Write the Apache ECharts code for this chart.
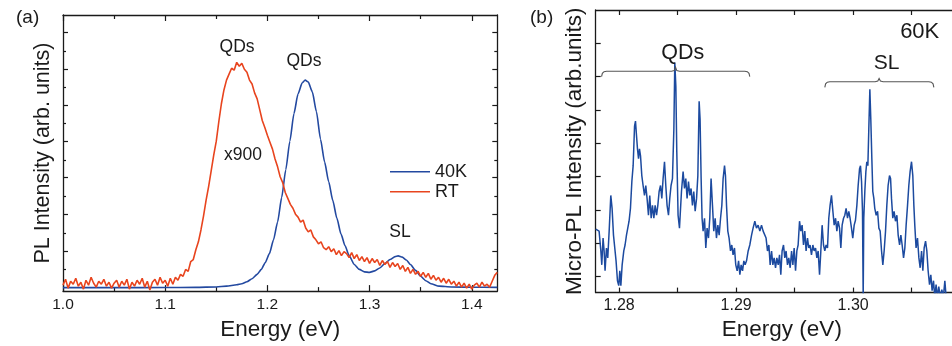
<!DOCTYPE html>
<html><head><meta charset="utf-8">
<script src="https://cdn.jsdelivr.net/npm/echarts@6/dist/echarts.min.js"></script>
<style>html,body{margin:0;padding:0;background:#fff}#c{width:952px;height:346px}</style>
</head><body><div id="c"></div>
<script>
// ---------------- data ----------------
// Panel (a): PL spectra, [energy eV, intensity arb.]
const k40Data = [[1.0,3.5],[1.05,3.5],[1.1,3.6],[1.13,3.8],[1.15,4.2],[1.16,5],[1.17,6.5],[1.175,7.5],[1.18,9.5],[1.185,12.5],[1.19,17],[1.194,22],[1.198,29],[1.202,38],[1.206,52],[1.21,70],[1.214,95],[1.218,123],[1.222,152],[1.226,180],[1.23,200],[1.234,211],[1.237,214],[1.24,212],[1.244,202],[1.248,182],[1.252,154],[1.256,131],[1.26,111],[1.264,92],[1.268,74],[1.272,58],[1.276,46],[1.28,36],[1.285,27],[1.29,22],[1.295,19.5],[1.3,19],[1.305,20.5],[1.31,23.5],[1.315,28],[1.32,32],[1.325,35],[1.328,35.7],[1.332,34.5],[1.336,31.5],[1.34,27],[1.345,21],[1.35,15],[1.355,10.5],[1.36,7.5],[1.368,5],[1.38,4.2],[1.4,3.9],[1.425,3.8]];
const rtData = [[1.0,6],[1.0025,12],[1.005,3],[1.0075,10],[1.01,7],[1.0125,13],[1.015,5],[1.0175,9],[1.02,2],[1.0225,11],[1.025,6],[1.0275,14],[1.03,8],[1.0325,4],[1.035,10],[1.0375,7],[1.04,12],[1.0425,5],[1.045,9],[1.0475,3],[1.05,8],[1.0525,11],[1.055,4],[1.0575,10],[1.06,6],[1.0625,12],[1.065,2],[1.0675,9],[1.07,5],[1.0725,11],[1.075,7],[1.0775,13],[1.08,4],[1.0825,10],[1.085,1],[1.0875,9],[1.09,12],[1.0925,6],[1.095,14],[1.0975,8],[1.1,11],[1.1025,5],[1.105,13],[1.1075,7],[1.11,14],[1.1125,11],[1.115,17],[1.1175,15],[1.12,22],[1.1225,20],[1.125,30],[1.1275,32],[1.13,42],[1.1325,50],[1.135,62],[1.1375,76],[1.14,92],[1.1425,106],[1.145,122],[1.1475,138],[1.15,152],[1.1525,172],[1.155,190],[1.1575,204],[1.16,214],[1.1625,220],[1.165,226],[1.1675,224],[1.17,232],[1.1725,228],[1.175,231],[1.1775,225],[1.18,222],[1.1825,214],[1.185,210],[1.1875,201],[1.19,195],[1.1925,184],[1.195,173],[1.1975,166],[1.2,158],[1.2025,151],[1.205,144],[1.2075,134],[1.21,126],[1.2125,116],[1.215,110],[1.2175,100],[1.22,94],[1.2225,88],[1.225,84],[1.2275,78],[1.23,75],[1.2325,70],[1.235,72],[1.2375,64],[1.24,60],[1.2425,62],[1.245,55],[1.2475,52],[1.25,48],[1.2525,50],[1.255,44],[1.2575,42],[1.26,45],[1.2625,40],[1.265,43],[1.2675,37],[1.27,41],[1.2725,36],[1.275,40],[1.2775,38],[1.28,34],[1.2825,39],[1.285,33],[1.2875,37],[1.29,31],[1.2925,35],[1.295,30],[1.2975,34],[1.3,28],[1.3025,33],[1.305,29],[1.3075,32],[1.31,26],[1.3125,31],[1.315,27],[1.3175,30],[1.32,24],[1.3225,29],[1.325,25],[1.3275,28],[1.33,22],[1.3325,26],[1.335,20],[1.3375,24],[1.34,18],[1.3425,22],[1.345,17],[1.3475,20],[1.35,15],[1.3525,19],[1.355,14],[1.3575,18],[1.36,12],[1.3625,16],[1.365,11],[1.3675,14],[1.37,9],[1.3725,13],[1.375,8],[1.3775,12],[1.38,7],[1.3825,10],[1.385,5],[1.3875,9],[1.39,4],[1.3925,8],[1.395,3],[1.3975,7],[1.4,2],[1.4025,6],[1.405,8],[1.4075,4],[1.41,9],[1.4125,5],[1.415,7],[1.4175,4],[1.42,10],[1.4225,16],[1.425,19]];
// Panel (b): micro-PL spectrum at 60K
const microData = [[1.278,64],[1.27815,65],[1.27829,62],[1.27844,42],[1.27852,28],[1.27863,55],[1.27872,42],[1.2788,22],[1.27892,45],[1.27903,35],[1.27915,62],[1.27929,98],[1.2794,85],[1.27952,58],[1.27963,45],[1.27974,32],[1.27986,12],[1.27997,7],[1.28006,22],[1.28015,7],[1.28026,28],[1.2804,42],[1.28051,48],[1.28063,58],[1.28074,65],[1.28085,72],[1.28097,85],[1.28109,112],[1.2812,128],[1.28132,168],[1.2814,173],[1.28149,158],[1.28157,145],[1.28166,135],[1.28174,145],[1.28183,138],[1.28194,118],[1.28205,108],[1.28217,98],[1.28228,108],[1.28239,95],[1.28251,78],[1.28262,98],[1.28274,75],[1.28285,88],[1.28297,75],[1.28308,88],[1.2832,78],[1.28331,88],[1.28342,102],[1.28354,108],[1.28365,95],[1.28376,115],[1.28388,132],[1.28399,108],[1.2841,88],[1.28422,78],[1.28433,95],[1.28444,108],[1.28456,115],[1.28468,165],[1.28476,232],[1.28485,208],[1.28493,142],[1.28504,78],[1.28516,65],[1.28533,102],[1.28547,122],[1.28559,105],[1.2857,115],[1.28581,95],[1.28593,112],[1.28604,98],[1.28615,105],[1.28627,88],[1.28638,102],[1.2865,82],[1.28662,95],[1.28673,118],[1.28684,193],[1.28692,175],[1.28701,115],[1.28709,75],[1.28718,62],[1.2873,75],[1.28741,45],[1.28752,65],[1.28764,55],[1.28775,75],[1.28786,115],[1.28798,88],[1.28809,62],[1.28821,75],[1.28832,55],[1.28844,68],[1.28855,58],[1.28867,75],[1.28878,88],[1.28889,115],[1.28901,128],[1.28909,118],[1.28918,88],[1.28929,62],[1.2894,55],[1.28952,42],[1.28963,48],[1.28974,38],[1.28986,45],[1.28997,28],[1.29009,22],[1.29021,32],[1.29032,18],[1.29043,28],[1.29055,22],[1.29066,32],[1.29077,28],[1.29089,32],[1.29103,42],[1.29117,48],[1.29132,58],[1.29145,65],[1.2916,72],[1.29174,65],[1.29188,68],[1.29203,62],[1.29217,68],[1.29231,62],[1.29245,62],[1.29256,55],[1.29268,42],[1.2928,48],[1.29291,28],[1.29303,42],[1.29314,28],[1.29325,35],[1.29337,25],[1.29348,35],[1.2936,28],[1.29371,38],[1.29382,18],[1.29393,42],[1.29405,48],[1.29416,35],[1.29427,42],[1.29439,28],[1.2945,35],[1.29462,25],[1.29474,42],[1.29485,28],[1.29496,45],[1.29508,22],[1.29519,42],[1.2953,48],[1.29542,72],[1.29553,62],[1.29564,68],[1.29576,48],[1.29587,62],[1.29598,42],[1.2961,55],[1.29621,45],[1.29632,48],[1.29644,38],[1.29656,48],[1.29667,42],[1.29679,45],[1.2969,35],[1.29701,42],[1.29713,18],[1.29724,42],[1.29735,68],[1.29747,48],[1.29758,42],[1.29769,48],[1.29781,45],[1.29792,75],[1.29803,88],[1.29815,98],[1.29827,82],[1.29838,68],[1.2985,75],[1.29861,62],[1.29872,72],[1.29884,65],[1.29895,45],[1.29906,68],[1.29918,75],[1.29929,78],[1.2994,85],[1.29952,75],[1.29963,82],[1.29974,75],[1.29986,65],[1.29997,55],[1.30009,68],[1.3002,73],[1.30032,88],[1.30043,108],[1.30055,125],[1.30063,128],[1.30072,112],[1.3008,82],[1.30086,-5],[1.30091,75],[1.301,102],[1.30109,122],[1.30117,132],[1.30126,128],[1.30134,165],[1.30143,205],[1.30151,175],[1.3016,135],[1.30168,102],[1.30177,95],[1.30185,85],[1.30197,78],[1.30209,82],[1.3022,65],[1.30231,62],[1.30243,42],[1.30254,28],[1.30265,42],[1.30277,62],[1.30288,88],[1.30299,108],[1.30311,118],[1.3032,115],[1.30328,95],[1.30339,75],[1.3035,82],[1.30362,72],[1.30374,78],[1.30385,58],[1.30397,48],[1.30408,58],[1.30419,48],[1.30431,35],[1.30442,45],[1.30453,68],[1.30465,88],[1.30476,108],[1.30487,122],[1.30499,132],[1.3051,118],[1.30519,88],[1.30527,68],[1.30538,45],[1.3055,55],[1.30562,35],[1.30573,25],[1.30585,42],[1.30596,22],[1.30607,45],[1.30619,52],[1.3063,42],[1.30641,22],[1.30653,8],[1.30664,18],[1.30675,2],[1.30687,12],[1.30698,-5],[1.30709,8],[1.30721,-5],[1.30732,6],[1.30745,-5],[1.30758,3],[1.30771,-5],[1.30784,12],[1.30795,-5],[1.30809,-5],[1.3098,-5]];
// tick values
const aXLabels = [1.0, 1.1, 1.2, 1.3, 1.4];
const aXMinor = [1.05, 1.15, 1.25, 1.35];
const aYMajor = [40.7, 77.7, 115, 151.7, 188.3, 225, 262.3];
const aYMinor = [21.7, 59, 96, 132.7, 170, 206.7, 243.3];
const bXLabels = [1.28, 1.29, 1.30];
const bXTicks = [1.28, 1.285, 1.29, 1.295, 1.30, 1.305];
const bYTicks = [16, 49.7, 83.3, 117, 150.7, 184.3, 218, 251.7];
const seriesNames = ['40K', 'RT'];

// ---------------- styling / layout ----------------
const FONT = '"Liberation Sans", Arial, Helvetica, sans-serif';
const INK = '#1a1a1a';
const BLUE = '#2349a0';
const ORANGE = '#e8441e';
const MBLUE = '#1c4a9f';

const chart = echarts.init(document.getElementById('c'), null, {renderer: 'canvas'});

function ax(grid, pos, min, max, o) {
  o = o || {};
  return {
    type: 'value', gridIndex: grid, position: pos, min: min, max: max,
    axisLine: {show: !!o.line, onZero: false, lineStyle: {color: INK, width: 1.3}},
    axisTick: {show: true, inside: true, length: o.len || 5, customValues: o.ticks || [],
      lineStyle: {color: INK, width: 1.2}},
    axisLabel: {show: !!o.labels, customValues: o.labels || [], margin: o.margin || 6,
      color: INK, fontFamily: FONT, fontSize: o.fs || 15, formatter: o.fmt},
    splitLine: {show: false},
    name: o.name || '', nameLocation: 'middle', nameGap: o.gap || 24,
    nameTextStyle: {color: INK, fontFamily: FONT, fontSize: o.nfs || 22, padding: o.npad || 0}
  };
}

const option = {
  animation: false,
  backgroundColor: '#fff',
  grid: [
    {left: 63, top: 15, width: 434.3, height: 280},
    {left: 595.7, top: 10, right: 0, height: 285}
  ],
  xAxis: [
    ax(0, 'bottom', 1.0, 1.425, {line: true, ticks: aXLabels, len: 6, labels: aXLabels, fs: 15.5, margin: 6,
      fmt: v => v.toFixed(1), name: 'Energy (eV)', gap: 24, nfs: 22.5}),
    ax(0, 'bottom', 1.0, 1.425, {ticks: aXMinor, len: 4}),
    ax(0, 'top', 1.0, 1.425, {line: true, ticks: aXLabels, len: 6}),
    ax(0, 'top', 1.0, 1.425, {ticks: aXMinor, len: 4}),
    ax(1, 'bottom', 1.278, 1.30845, {line: true, ticks: bXTicks, len: 5, labels: bXLabels, fs: 16, margin: 4.5,
      fmt: v => v.toFixed(2), name: 'Energy (eV)', gap: 24, nfs: 22.5, npad: [0, 0, 0, 16]}),
    ax(1, 'top', 1.278, 1.30845, {line: true, ticks: bXTicks, len: 5})
  ],
  yAxis: [
    ax(0, 'left', 0, 280, {line: true, ticks: aYMajor, len: 5, name: 'PL Intensity (arb. units)', gap: 9, nfs: 21.5}),
    ax(0, 'left', 0, 280, {ticks: aYMinor, len: 3}),
    ax(0, 'right', 0, 280, {line: true, ticks: aYMajor, len: 5}),
    ax(0, 'right', 0, 280, {ticks: aYMinor, len: 3}),
    ax(1, 'left', 0, 285, {line: true, ticks: bYTicks, len: 5, name: 'Micro-PL Intensity (arb.units)', gap: 9.5, nfs: 22.5})
  ],
  legend: {
    data: seriesNames, orient: 'vertical', left: 390, top: 162.7, padding: 0,
    icon: 'rect', itemWidth: 40, itemHeight: 1.6, itemGap: 2,
    textStyle: {color: INK, fontFamily: FONT, fontSize: 18}
  },
  series: [
    {type: 'line', name: seriesNames[0], xAxisIndex: 0, yAxisIndex: 0, data: k40Data,
      smooth: 0.2, smoothMonotone: 'x', symbol: 'none', color: BLUE,
      lineStyle: {color: BLUE, width: 1.6}},
    {type: 'line', name: seriesNames[1], xAxisIndex: 0, yAxisIndex: 0, data: rtData,
      symbol: 'none', color: ORANGE, lineStyle: {color: ORANGE, width: 1.6}},
    {type: 'line', name: '60K', xAxisIndex: 4, yAxisIndex: 4, data: microData,
      symbol: 'none', color: MBLUE, lineStyle: {color: MBLUE, width: 1.5}}
  ]
};
chart.setOption(option);

// ---------------- annotations (anchored in data coordinates) ----------------
const pa = (e, h) => chart.convertToPixel({xAxisIndex: 0, yAxisIndex: 0}, [e, h]);
const pb = (e, h) => chart.convertToPixel({xAxisIndex: 4, yAxisIndex: 4}, [e, h]);

function txt(p, s, fs) {
  return {type: 'text', x: p[0], y: p[1], z: 100,
    style: {text: s, fill: INK, fontFamily: FONT, fontSize: fs, align: 'center', verticalAlign: 'middle'}};
}
function brace(e1, e2, et, hLine, hEnd, hTip) {
  const a = pb(e1, hEnd), b = pb(e2, hEnd), t = pb(et, hTip), l = pb(e1, hLine);
  const y = l[1], ye = a[1], yt = t[1];
  const x1 = a[0], x2 = b[0], xt = t[0];
  return {type: 'polyline', z: 100, shape: {points: [
    [x1, ye], [x1 + 0.8, y + 2.2], [x1 + 2.5, y + 0.5], [x1 + 5, y],
    [xt - 4, y], [xt - 1.3, y - 0.6], [xt, yt], [xt + 1.3, y - 0.6], [xt + 4, y],
    [x2 - 5, y], [x2 - 2.5, y + 0.5], [x2 - 0.8, y + 2.2], [x2, ye]]},
    style: {stroke: '#555', lineWidth: 1.1, fill: null}};
}

chart.setOption({graphic: [
  {type: 'text', left: 16, top: 8, style: {text: '(a)', fill: INK, fontFamily: FONT, fontSize: 19}},
  {type: 'text', left: 530, top: 8, style: {text: '(b)', fill: INK, fontFamily: FONT, fontSize: 19}},
  txt(pa(1.1703, 247), 'QDs', 17.5),
  txt(pa(1.2358, 233), 'QDs', 17.5),
  txt(pa(1.1761, 138), 'x900', 17.5),
  txt(pa(1.3298, 60), 'SL', 17.5),
  txt(pb(1.28544, 242), 'QDs', 21.5),
  txt(pb(1.30569, 263), '60K', 22),
  txt(pb(1.30287, 231), 'SL', 21),
  brace(1.2785, 1.29117, 1.28482, 223.3, 217.7, 227.5),
  brace(1.29758, 1.3069, 1.30222, 212.7, 207, 216)
]});
</script></body></html>
